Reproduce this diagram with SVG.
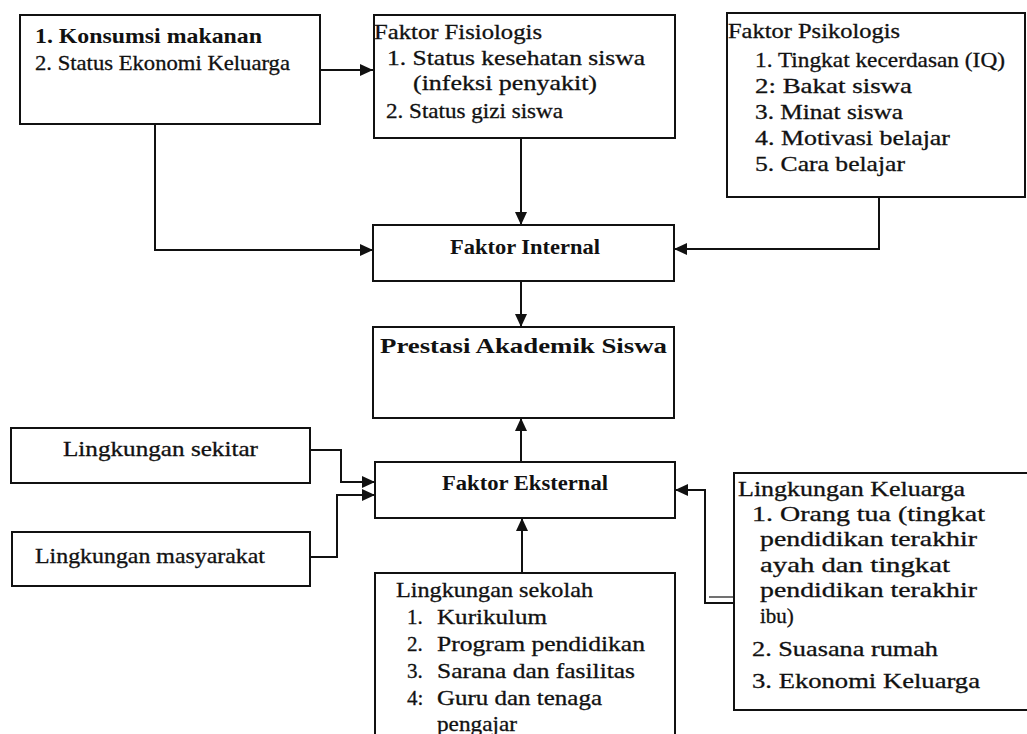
<svg xmlns="http://www.w3.org/2000/svg" width="1027" height="734" viewBox="0 0 1027 734">
<style>
.box{fill:#fff;stroke:#111;stroke-width:2}
.t{font-family:"Liberation Serif","Times New Roman",serif;font-size:21px;fill:#111;stroke:#111;stroke-width:0.3}
.b{font-weight:bold;stroke-width:0}
.c{fill:none;stroke:#111;stroke-width:2}
.thin{fill:none;stroke:#111;stroke-width:1.2}
</style>
<defs>
<marker id="ah" markerUnits="userSpaceOnUse" markerWidth="13" markerHeight="12" refX="13" refY="6" orient="auto">
<path d="M0,0 L13,6 L0,12 Z" fill="#111"/>
</marker>
</defs>
<rect width="1027" height="734" fill="#fff"/>
<g id="connectors">
<path class="c" d="M320,70 H373" marker-end="url(#ah)"/>
<path class="c" d="M155,124 V250 H373" marker-end="url(#ah)"/>
<path class="c" d="M521,138 V225" marker-end="url(#ah)"/>
<path class="c" d="M879,197 V249 H674" marker-end="url(#ah)"/>
<path class="c" d="M521,281 V327" marker-end="url(#ah)"/>
<path class="c" d="M521,462 V418" marker-end="url(#ah)"/>
<path class="c" d="M310,450 H341 V482 H375" marker-end="url(#ah)"/>
<path class="c" d="M310,557 H337 V495 H375" marker-end="url(#ah)"/>
<path class="c" d="M522,573 V518" marker-end="url(#ah)"/>
<path class="c" d="M734,603 H705 V490 H675" marker-end="url(#ah)"/>
<path class="thin" d="M734,597 H709"/>
</g>
<g id="konsumsi">
<rect class="box" x="20" y="15" width="300" height="109"/>
<text class="t b" x="35" y="43" font-size="23" textLength="227" lengthAdjust="spacingAndGlyphs">1. Konsumsi makanan</text>
<text class="t" x="35" y="70" textLength="255" lengthAdjust="spacingAndGlyphs">2. Status Ekonomi Keluarga</text>
</g>
<g id="fisiologis">
<rect class="box" x="374" y="15" width="301" height="123"/>
<text class="t" x="374" y="39" textLength="168" lengthAdjust="spacingAndGlyphs">Faktor Fisiologis</text>
<text class="t" x="387" y="65" textLength="258" lengthAdjust="spacingAndGlyphs">1. Status kesehatan siswa</text>
<text class="t" x="413" y="90" textLength="184" lengthAdjust="spacingAndGlyphs">(infeksi penyakit)</text>
<text class="t" x="386" y="118" textLength="177" lengthAdjust="spacingAndGlyphs">2. Status gizi siswa</text>
</g>
<g id="psikologis">
<rect class="box" x="727" y="13" width="298" height="184"/>
<text class="t" x="728" y="38" textLength="172" lengthAdjust="spacingAndGlyphs">Faktor Psikologis</text>
<text class="t" x="755" y="67" textLength="250" lengthAdjust="spacingAndGlyphs">1. Tingkat kecerdasan (IQ)</text>
<text class="t" x="755" y="93" textLength="157" lengthAdjust="spacingAndGlyphs">2: Bakat siswa</text>
<text class="t" x="755" y="119" textLength="148" lengthAdjust="spacingAndGlyphs">3. Minat siswa</text>
<text class="t" x="755" y="145" textLength="195" lengthAdjust="spacingAndGlyphs">4. Motivasi belajar</text>
<text class="t" x="755" y="171" textLength="150" lengthAdjust="spacingAndGlyphs">5. Cara belajar</text>
</g>
<g id="internal">
<rect class="box" x="373" y="225" width="301" height="56"/>
<text class="t b" x="450" y="254" font-size="22" textLength="150" lengthAdjust="spacingAndGlyphs">Faktor Internal</text>
</g>
<g id="prestasi">
<rect class="box" x="373" y="327" width="301" height="91"/>
<text class="t b" x="380" y="353" font-size="24" textLength="287" lengthAdjust="spacingAndGlyphs">Prestasi Akademik Siswa</text>
</g>
<g id="eksternal">
<rect class="box" x="375" y="462" width="300" height="56"/>
<text class="t b" x="442" y="490" font-size="22" textLength="166" lengthAdjust="spacingAndGlyphs">Faktor Eksternal</text>
</g>
<g id="sekitar">
<rect class="box" x="11" y="428" width="299" height="55"/>
<text class="t" x="63" y="456" textLength="195" lengthAdjust="spacingAndGlyphs">Lingkungan sekitar</text>
</g>
<g id="masyarakat">
<rect class="box" x="12" y="532" width="298" height="54"/>
<text class="t" x="35" y="563" textLength="230" lengthAdjust="spacingAndGlyphs">Lingkungan masyarakat</text>
</g>
<g id="sekolah">
<rect class="box" x="375" y="573" width="300" height="170"/>
<text class="t" x="396" y="597" textLength="197" lengthAdjust="spacingAndGlyphs">Lingkungan sekolah</text>
<text class="t" x="407" y="624">1.</text><text class="t" x="437" y="624" textLength="110" lengthAdjust="spacingAndGlyphs">Kurikulum</text>
<text class="t" x="407" y="651">2.</text><text class="t" x="437" y="651" textLength="208" lengthAdjust="spacingAndGlyphs">Program pendidikan</text>
<text class="t" x="407" y="678">3.</text><text class="t" x="437" y="678" textLength="198" lengthAdjust="spacingAndGlyphs">Sarana dan fasilitas</text>
<text class="t" x="407" y="705">4:</text><text class="t" x="437" y="705" textLength="165" lengthAdjust="spacingAndGlyphs">Guru dan tenaga</text>
<text class="t" x="437" y="731" textLength="80" lengthAdjust="spacingAndGlyphs">pengajar</text>
</g>
<g id="keluarga">
<rect class="box" x="734" y="473" width="300" height="237"/>
<text class="t" x="738" y="496" textLength="227" lengthAdjust="spacingAndGlyphs">Lingkungan Keluarga</text>
<text class="t" x="752" y="521" textLength="233" lengthAdjust="spacingAndGlyphs">1. Orang tua (tingkat</text>
<text class="t" x="760" y="546" textLength="217" lengthAdjust="spacingAndGlyphs">pendidikan terakhir</text>
<text class="t" x="760" y="572" textLength="190" lengthAdjust="spacingAndGlyphs">ayah dan tingkat</text>
<text class="t" x="760" y="597" textLength="217" lengthAdjust="spacingAndGlyphs">pendidikan terakhir</text>
<text class="t" x="760" y="623">ibu)</text>
<text class="t" x="752" y="656" textLength="186" lengthAdjust="spacingAndGlyphs">2. Suasana rumah</text>
<text class="t" x="752" y="688" textLength="228" lengthAdjust="spacingAndGlyphs">3. Ekonomi Keluarga</text>
</g>
</svg>
